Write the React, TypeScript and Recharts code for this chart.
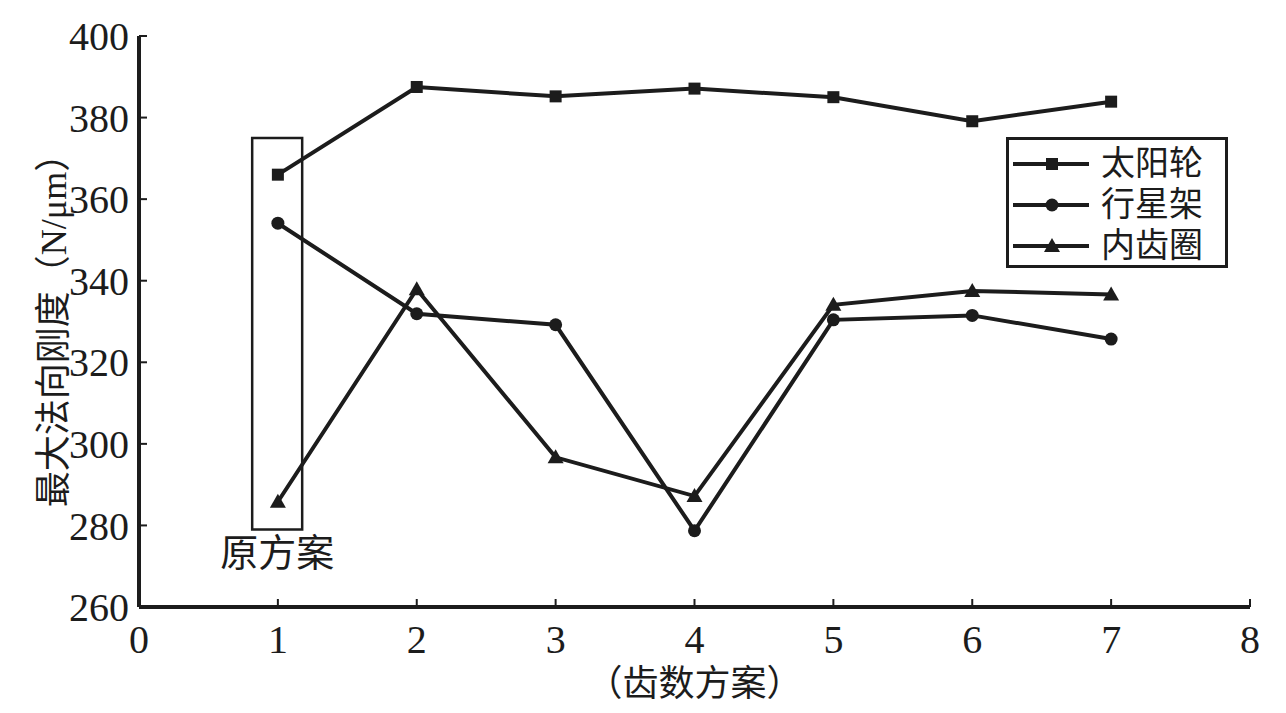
import React from 'react';
import { LineChart, Line, XAxis, YAxis, Legend, ReferenceArea } from 'recharts';

const schemes = [1, 2, 3, 4, 5, 6, 7];
const sunGear = [366, 387.5, 385.2, 387.1, 385, 379.1, 383.9];
const planetCarrier = [354.1, 331.9, 329.2, 278.7, 330.4, 331.5, 325.7];
const ringGear = [285.8, 337.9, 296.7, 287.2, 334.1, 337.5, 336.6];
const xTicks = [0, 1, 2, 3, 4, 5, 6, 7, 8];
const yTicks = [260, 280, 300, 320, 340, 360, 380, 400];
const seriesOrder = ['sun', 'carrier', 'ring'];

const data = schemes.map((s, i) => ({
  scheme: s,
  sun: sunGear[i],
  carrier: planetCarrier[i],
  ring: ringGear[i],
}));

const INK = '#1c1c1c';
const FONT = '"Liberation Serif", "Times New Roman", "Noto Sans CJK SC", serif';

const Square = (props: any) => {
  const { cx, cy } = props;
  if (cx == null || cy == null) return null;
  return <rect x={cx - 6} y={cy - 6} width={12} height={12} fill={INK} />;
};

const Dot = (props: any) => {
  const { cx, cy } = props;
  if (cx == null || cy == null) return null;
  return <circle cx={cx} cy={cy} r={6.5} fill={INK} />;
};

const Triangle = (props: any) => {
  const { cx, cy } = props;
  if (cx == null || cy == null) return null;
  return <path d={`M${cx},${cy - 8} L${cx + 8},${cy + 6} L${cx - 8},${cy + 6} Z`} fill={INK} />;
};

const markerFor: Record<string, any> = { sun: Square, carrier: Dot, ring: Triangle };

const LegendBox = (props: any) => {
  const items = [...(props.payload || [])].sort(
    (a: any, b: any) => seriesOrder.indexOf(a.dataKey) - seriesOrder.indexOf(b.dataKey)
  );
  return (
    <div
      style={{
        border: `3px solid ${INK}`,
        background: '#fff',
        width: 222,
        height: 131,
        padding: '3px 0',
        boxSizing: 'border-box',
      }}
    >
      {items.map((item: any) => {
        const M = markerFor[item.dataKey];
        return (
          <div key={item.dataKey} style={{ display: 'flex', alignItems: 'center', height: 41 }}>
            <svg width={88} height={24} style={{ marginLeft: 4 }}>
              <line x1={0} y1={12} x2={76} y2={12} stroke={INK} strokeWidth={4} />
              <M cx={39} cy={12} />
            </svg>
            <span style={{ fontFamily: FONT, fontSize: 34, color: INK, lineHeight: '41px' }}>
              {item.value}
            </span>
          </div>
        );
      })}
    </div>
  );
};

export default function App() {
  return (
    <div style={{ background: '#fff' }}>
      <LineChart
        width={1270}
        height={700}
        data={data}
        margin={{ top: 28, right: 28, bottom: 0, left: 0 }}
      >
        <XAxis
          dataKey="scheme"
          type="number"
          domain={[0, 8]}
          ticks={xTicks}
          interval={0}
          height={101}
          stroke={INK}
          axisLine={{ stroke: INK, strokeWidth: 4 }}
          tickLine={{ stroke: INK, strokeWidth: 2 }}
          tickSize={-8}
          tickMargin={26}
          tick={{ fill: INK, fontSize: 40, fontFamily: FONT }}
          label={{
            value: '（齿数方案）',
            position: 'insideBottom',
            offset: 12,
            fill: INK,
            fontSize: 36,
            fontFamily: FONT,
          }}
        />
        <YAxis
          type="number"
          domain={[260, 400]}
          ticks={yTicks}
          interval={0}
          width={131}
          stroke={INK}
          axisLine={{ stroke: INK, strokeWidth: 4 }}
          tickLine={{ stroke: INK, strokeWidth: 2 }}
          tickSize={-8}
          tickMargin={18}
          tick={{ fill: INK, fontSize: 40, fontFamily: FONT }}
          label={{
            value: '最大法向刚度（N/μm）',
            angle: -90,
            position: 'center',
            dx: -20,
            fill: INK,
            fontSize: 36,
            fontFamily: FONT,
          }}
        />
        <ReferenceArea
          x1={0.815}
          x2={1.175}
          y1={279}
          y2={375}
          fill="none"
          stroke={INK}
          strokeWidth={2.5}
          fillOpacity={0}
          label={{
            value: '原方案',
            position: 'bottom',
            offset: 10,
            fill: INK,
            fontSize: 38,
            fontFamily: FONT,
          }}
        />
        <Legend
          layout="horizontal"
          align="center"
          verticalAlign="middle"
          content={<LegendBox />}
          wrapperStyle={{ top: 129, left: 998, width: 222 }}
        />
        <Line
          dataKey="sun"
          name="太阳轮"
          stroke={INK}
          strokeWidth={4}
          dot={<Square />}
          activeDot={false}
          isAnimationActive={false}
        />
        <Line
          dataKey="carrier"
          name="行星架"
          stroke={INK}
          strokeWidth={4}
          dot={<Dot />}
          activeDot={false}
          isAnimationActive={false}
        />
        <Line
          dataKey="ring"
          name="内齿圈"
          stroke={INK}
          strokeWidth={4}
          dot={<Triangle />}
          activeDot={false}
          isAnimationActive={false}
        />
      </LineChart>
    </div>
  );
}
